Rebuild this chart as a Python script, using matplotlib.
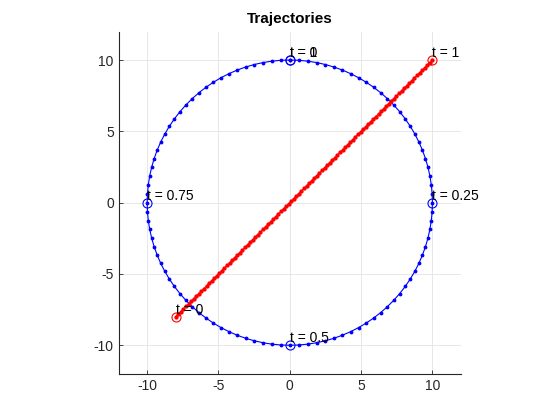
import numpy as np
import matplotlib
matplotlib.use("Agg")
import matplotlib.pyplot as plt

plt.rcParams['font.family'] = ['Liberation Sans', 'DejaVu Sans']
plt.rcParams['axes.unicode_minus'] = False

# data
n_points = 101
radius = 10.0
line_start = (-8.0, -8.0)
line_end = (10.0, 10.0)
key_times = [0, 0.25, 0.5, 0.75, 1]
key_labels = ["t = 0", "t = 0.25", "t = 0.5", "t = 0.75", "t = 1"]
line_times = [0, 1]
line_labels = ["t = 0", "t = 1"]
xticks = [-10, -5, 0, 5, 10]
yticks = [-10, -5, 0, 5, 10]

t = np.linspace(0, 1, n_points)
cx = radius * np.sin(2 * np.pi * t)
cy = radius * np.cos(2 * np.pi * t)
lx = line_start[0] + (line_end[0] - line_start[0]) * t
ly = line_start[1] + (line_end[1] - line_start[1]) * t

fig = plt.figure(figsize=(5.6, 4.2), dpi=100)
ax = fig.add_axes([0.13, 0.11, 0.775, 0.815])
ax.plot(cx, cy, '-', color='#0000ff', lw=0.8, marker='.', ms=3.5)
ax.plot(lx, ly, '-', color='#ff0000', lw=0.8, marker='.', ms=4.2)

for tk, lab in zip(key_times, key_labels):
    px = radius * np.sin(2 * np.pi * tk)
    py = radius * np.cos(2 * np.pi * tk)
    ax.plot(px, py, 'o', mfc='none', mec='#0000ff', ms=6.5, mew=0.8)
    ax.text(px, py + 0.5, lab, ha='left', va='center', fontsize=10)
for tk, lab in zip(line_times, line_labels):
    px = line_start[0] + (line_end[0] - line_start[0]) * tk
    py = line_start[1] + (line_end[1] - line_start[1]) * tk
    ax.plot(px, py, 'o', mfc='none', mec='#ff0000', ms=6.5, mew=0.8)
    ax.text(px, py + 0.5, lab, ha='left', va='center', fontsize=10)

ax.set_xlim(-12, 12)
ax.set_ylim(-12, 12)
ax.set_aspect('equal', adjustable='box')
ax.set_xticks(xticks)
ax.set_yticks(yticks)
ax.grid(True, color='#e3e3e3', lw=0.6)
ax.set_axisbelow(True)
ax.tick_params(direction='in', length=3, labelsize=10, colors='#262626', width=0.6)
for side in ['top', 'right']:
    ax.spines[side].set_visible(False)
for side in ['left', 'bottom']:
    ax.spines[side].set_color('#262626')
    ax.spines[side].set_linewidth(0.8)
ax.set_title('Trajectories', fontsize=11, fontweight='bold', color='black')
fig.savefig('out.png', dpi=100)
